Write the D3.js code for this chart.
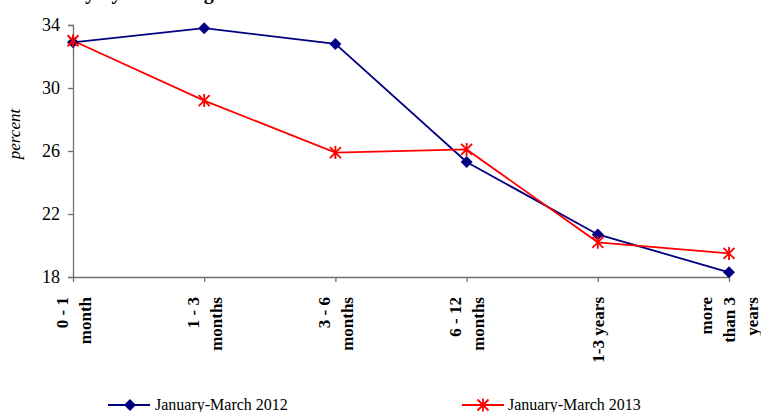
<!DOCTYPE html>
<html><head><meta charset="utf-8">
<script src="https://cdn.jsdelivr.net/npm/d3@7"></script>
<style>body{margin:0;background:#fff}svg{display:block}</style>
</head><body>
<svg id="c" width="761" height="412"></svg>
<script>
const categories = ["0 - 1|month","1 - 3|months","3 - 6|months","6 - 12|months","1-3 years","more|than 3|years"];
const series2012 = [32.9, 33.8, 32.8, 25.3, 20.7, 18.3];
const series2013 = [33.0, 29.2, 25.9, 26.1, 20.2, 19.5];
const yTicks = [18, 22, 26, 30, 34];
const seriesNames = ["January-March 2012", "January-March 2013"];

const svg = d3.select("#c");
const serif = "'Liberation Serif','Times New Roman',serif";
const x = d3.scalePoint().domain(categories).range([73, 729]);
const y = d3.scaleLinear().domain([18, 34]).range([277, 25]);

// clipped title remnant
svg.append("text").attr("x", 32).attr("y", -1).attr("font-family", serif)
  .attr("font-weight", "bold").attr("font-size", 20).attr("fill", "#000")
  .text("Weekly by remaining term");

// y axis
const ya = svg.append("g").attr("transform", "translate(73,0)")
  .call(d3.axisLeft(y).tickValues(yTicks).tickSize(5).tickPadding(8).tickFormat(d3.format("d")));
ya.select(".domain").attr("stroke", "#707070").attr("stroke-width", 1.3);
ya.selectAll(".tick line").attr("stroke", "#707070").attr("stroke-width", 1.3);
ya.selectAll(".tick text").attr("font-family", serif).attr("font-size", 18).attr("fill", "#000");

// x axis
const xa = svg.append("g").attr("transform", "translate(0,277)")
  .call(d3.axisBottom(x).tickSize(5).tickSizeOuter(0).tickFormat(""));
xa.select(".domain").attr("stroke", "#707070").attr("stroke-width", 1.3);
xa.selectAll(".tick line").attr("stroke", "#707070").attr("stroke-width", 1.3);

// category labels
const lh = 23;
categories.forEach(c => {
  const lines = c.split("|");
  const cx = x(c);
  const t = svg.append("text").attr("font-family", serif).attr("font-weight", "bold")
    .attr("font-size", 17).attr("text-anchor", "end").attr("fill", "#000")
    .attr("transform", `translate(${cx},297) rotate(-90)`);
  lines.forEach((l, i) => {
    t.append("tspan").attr("x", 0).attr("y", (i - (lines.length - 1) / 2) * lh + 6).text(l);
  });
});

// y label
svg.append("text").attr("font-family", serif).attr("font-style", "italic").attr("font-size", 17)
  .attr("text-anchor", "middle").attr("transform", "translate(20,134) rotate(-90)").text("percent");

const line = d3.line().x((d, i) => x(categories[i])).y(d => y(d));
const blue = "#000080", red = "#ff0000";

svg.append("path").datum(series2012).attr("d", line).attr("fill", "none").attr("stroke", blue).attr("stroke-width", 1.8);
svg.append("path").datum(series2013).attr("d", line).attr("fill", "none").attr("stroke", red).attr("stroke-width", 1.8);

function diamond(g, cx, cy) {
  g.append("path").attr("d", `M${cx},${cy-6}L${cx+6},${cy}L${cx},${cy+6}L${cx-6},${cy}Z`).attr("fill", blue);
}
function star(g, cx, cy) {
  const r = 5.5;
  g.append("path").attr("d", `M${cx-r},${cy-r}L${cx+r},${cy+r}M${cx-r},${cy+r}L${cx+r},${cy-r}M${cx},${cy-r-1}L${cx},${cy+r+1}`)
    .attr("stroke", red).attr("stroke-width", 1.8).attr("fill", "none");
}
const mk = svg.append("g");
series2012.forEach((v, i) => diamond(mk, x(categories[i]), y(v)));
series2013.forEach((v, i) => star(mk, x(categories[i]), y(v)));

// legend
const lg = svg.append("g");
const ly = 405;
lg.append("line").attr("x1", 108).attr("x2", 150).attr("y1", ly).attr("y2", ly).attr("stroke", blue).attr("stroke-width", 1.8);
diamond(lg, 130, ly);
lg.append("text").attr("x", 155).attr("y", ly + 5).attr("font-family", serif).attr("font-size", 16).text(seriesNames[0]);
lg.append("line").attr("x1", 462).attr("x2", 504).attr("y1", ly).attr("y2", ly).attr("stroke", red).attr("stroke-width", 1.8);
star(lg, 483, ly);
lg.append("text").attr("x", 508).attr("y", ly + 5).attr("font-family", serif).attr("font-size", 16).text(seriesNames[1]);
</script>
</body></html>
